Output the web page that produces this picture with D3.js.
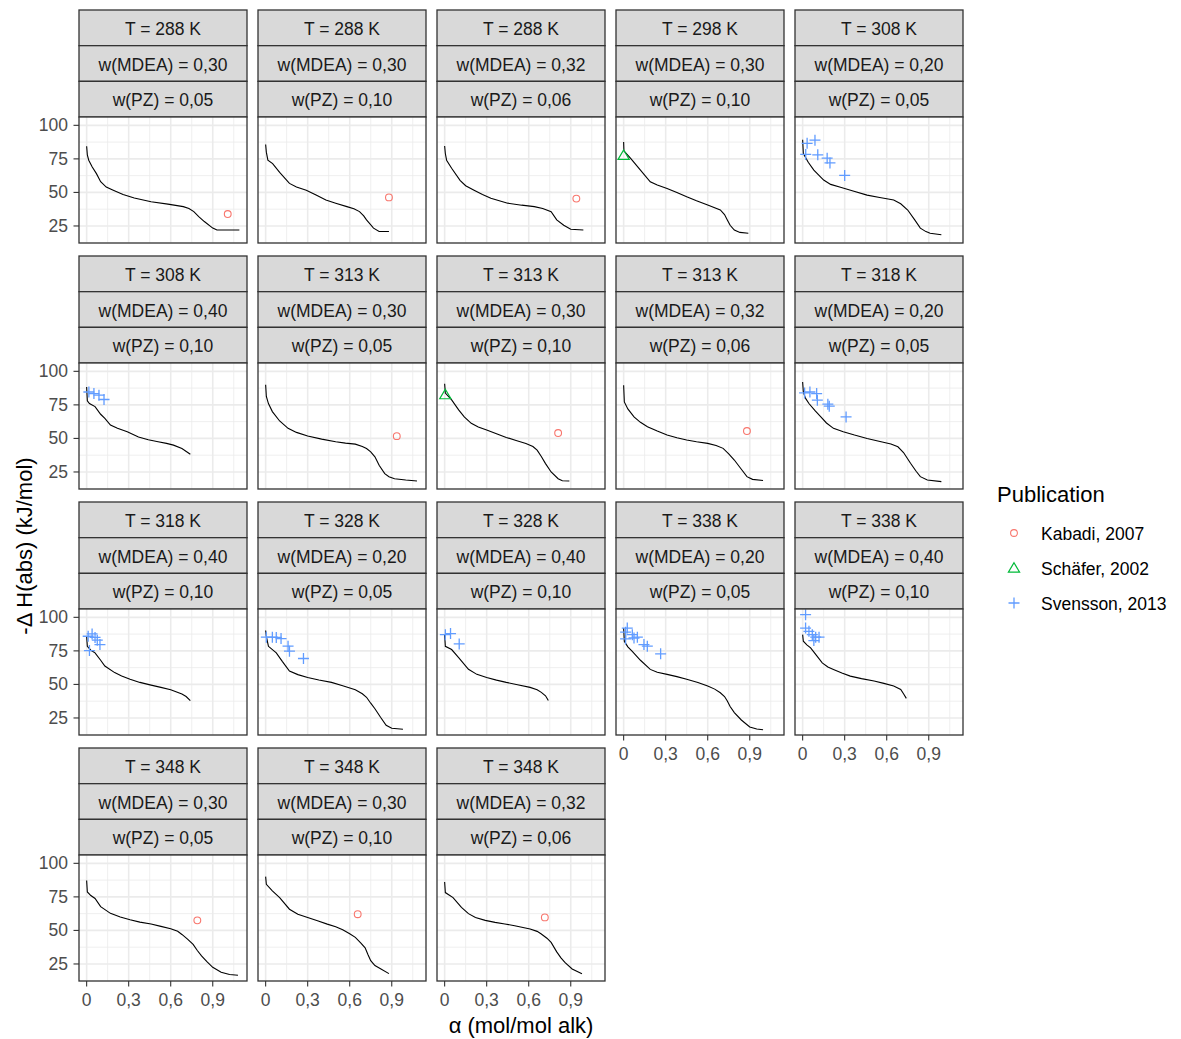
<!DOCTYPE html>
<html><head><meta charset="utf-8">
<script src="https://cdn.jsdelivr.net/npm/d3@7"></script>
<style>body{margin:0;background:#fff;} text{font-family:"Liberation Sans",Arial,sans-serif;}</style>
</head><body>
<svg id="chart" width="1181" height="1039"></svg>
<script>
// ---- facet labels ----
const temps = [288,288,288,298,308,308,313,313,313,318,318,328,328,338,338,348,348,348];
const wMDEA = ["0,30","0,30","0,32","0,30","0,20","0,40","0,30","0,30","0,32","0,20","0,40","0,20","0,40","0,20","0,40","0,30","0,30","0,32"];
const wPZ   = ["0,05","0,10","0,06","0,10","0,05","0,10","0,05","0,10","0,06","0,05","0,10","0,05","0,10","0,05","0,10","0,05","0,10","0,06"];

// ---- model curves (alpha, -dH) ----
const curve01 = [[0,84.4],[0.005,78],[0.015,74],[0.04,69],[0.07,64],[0.1,58],[0.14,54],[0.19,51.7],[0.26,48.5],[0.34,45.8],[0.46,43],[0.58,41.3],[0.69,39.4],[0.73,38],[0.765,35.7],[0.8,32],[0.84,28.3],[0.9,23.4],[0.93,22],[1.09,22]];
const curve02 = [[0,85.7],[0.005,80],[0.016,74],[0.05,71.5],[0.1,65],[0.17,56.7],[0.22,54],[0.29,51.7],[0.36,48],[0.43,44.3],[0.5,42],[0.58,39.4],[0.63,37.8],[0.67,35.7],[0.7,32.5],[0.72,29.5],[0.77,23.4],[0.81,20.9],[0.88,20.9]];
const curve03 = [[0,84.6],[0.005,79],[0.014,74],[0.05,68],[0.11,59],[0.15,55],[0.21,51.7],[0.27,48.5],[0.33,45.6],[0.45,42],[0.55,40.5],[0.64,39.4],[0.7,38],[0.76,35.7],[0.8,29.5],[0.85,25.5],[0.9,22.6],[0.99,22]];
const curve04 = [[0,87.6],[0.002,81],[0.05,75.3],[0.12,66.6],[0.19,57.9],[0.24,55.5],[0.31,53],[0.38,50],[0.45,46.8],[0.52,43.8],[0.6,40.6],[0.69,36.9],[0.72,33.5],[0.74,29.5],[0.76,25.5],[0.79,22],[0.83,20.2],[0.89,19.6]];
const curve05 = [[0,89.3],[0.005,79],[0.04,72.5],[0.08,66.6],[0.15,59.2],[0.2,56],[0.27,53.8],[0.36,51],[0.46,48],[0.55,46.2],[0.65,44.3],[0.7,41.5],[0.75,36.9],[0.8,29.5],[0.84,23.4],[0.88,20.8],[0.91,19.6],[0.99,18.4]];
const curve06 = [[0,88.3],[0.005,78],[0.02,76],[0.06,73.75],[0.1,68],[0.13,65],[0.17,60],[0.22,57.5],[0.29,55],[0.37,51],[0.44,49],[0.51,47.5],[0.57,46.3],[0.62,45],[0.68,42.5],[0.74,38.25]];
const curve07 = [[0,90],[0.005,81.25],[0.02,76],[0.048,70],[0.1,63],[0.16,57.5],[0.22,54.5],[0.3,51.75],[0.4,49.5],[0.5,47.5],[0.57,46.5],[0.64,45.75],[0.69,44],[0.72,42.5],[0.75,40],[0.78,36.25],[0.81,30],[0.85,23.75],[0.88,21.5],[0.92,20],[1.0,19],[1.08,18.25]];
const curve08 = [[0,90.75],[0.005,83.75],[0.05,78.75],[0.1,71.25],[0.14,66],[0.19,61.25],[0.24,58.5],[0.3,56.25],[0.37,53.5],[0.44,50.75],[0.51,48.5],[0.58,46.25],[0.63,44],[0.66,41.25],[0.69,36.5],[0.72,31.25],[0.76,25],[0.81,20],[0.84,18.5],[0.89,18.25]];
const curve09 = [[0,89.6],[0.005,77.2],[0.03,72],[0.074,66],[0.12,62],[0.17,58.7],[0.24,55.5],[0.31,52.5],[0.38,50.5],[0.45,48.8],[0.52,47.5],[0.6,46.3],[0.66,44.8],[0.71,42.6],[0.75,38.5],[0.79,33.9],[0.84,27],[0.88,21.5],[0.92,19.5],[0.995,18.6]];
const curve10 = [[0,92],[0.005,84.6],[0.02,80],[0.045,76],[0.09,70.5],[0.13,66],[0.17,61.5],[0.22,57.5],[0.29,55],[0.37,52.5],[0.46,50],[0.56,47.5],[0.63,45.8],[0.68,43.8],[0.72,39.5],[0.77,31.5],[0.81,25.5],[0.84,21.5],[0.89,19],[0.99,17.8]];
const curve11 = [[0,85.8],[0.005,78.4],[0.03,75.5],[0.06,73.5],[0.1,68],[0.13,63.7],[0.2,58.8],[0.25,56.3],[0.31,53.9],[0.38,51.5],[0.46,49.5],[0.53,47.8],[0.6,46],[0.68,42.9],[0.71,41],[0.74,38]];
const curve12 = [[0,90.2],[0.005,85.8],[0.02,78.4],[0.076,73.5],[0.12,67],[0.17,60],[0.23,57.3],[0.3,55.1],[0.38,53.3],[0.47,51.5],[0.55,49],[0.64,46],[0.69,43],[0.72,40.4],[0.75,36],[0.78,31.9],[0.82,25.5],[0.86,19.6],[0.9,17.3],[0.98,16.6]];
const curve13 = [[0,87],[0.005,78.4],[0.05,76],[0.1,69.9],[0.17,61.3],[0.23,57.5],[0.3,55.1],[0.37,53.2],[0.44,51.5],[0.52,49.8],[0.61,47.8],[0.66,46],[0.69,44.1],[0.72,41.5],[0.74,38]];
const curve14 = [[0,92],[0.005,82.2],[0.03,78],[0.06,74.8],[0.12,68],[0.19,61.2],[0.24,59],[0.31,57.5],[0.38,55.8],[0.45,53.8],[0.53,51.5],[0.6,48.8],[0.65,46.5],[0.69,43.8],[0.72,41],[0.74,37.6],[0.76,33.5],[0.79,29],[0.84,23.5],[0.9,18.3],[0.95,16.8],[0.995,16.2]];
const curve15 = [[0,87.1],[0.005,82.2],[0.03,79.5],[0.057,77.2],[0.1,71.5],[0.14,66.1],[0.18,63],[0.22,61.2],[0.28,58.5],[0.34,56.2],[0.42,54.3],[0.51,52.5],[0.58,50.8],[0.65,48.8],[0.7,46.3],[0.72,43],[0.74,39.6]];
const curve16 = [[0,87.2],[0.005,78.7],[0.03,76],[0.06,73.8],[0.1,67.7],[0.17,62.7],[0.24,60],[0.31,57.9],[0.38,56.2],[0.46,54.8],[0.53,53],[0.6,51.3],[0.65,49.3],[0.68,47],[0.72,43.5],[0.76,39.6],[0.79,35],[0.82,31],[0.86,26.5],[0.9,22.5],[0.96,18.8],[1.02,17.2],[1.08,16.6]];
const curve17 = [[0,90.1],[0.005,84.4],[0.048,79.5],[0.1,74.5],[0.17,65.8],[0.23,62],[0.3,59.7],[0.37,57.2],[0.44,54.7],[0.5,52.8],[0.55,50.5],[0.6,47.5],[0.64,44.8],[0.68,40.5],[0.71,37],[0.73,32],[0.75,27.5],[0.78,23.8],[0.82,21.5],[0.88,17.8]];
const curve18 = [[0,86.1],[0.005,78.2],[0.06,74.5],[0.12,67.1],[0.17,62.5],[0.22,59.7],[0.29,57.5],[0.36,56],[0.43,54.8],[0.5,53.5],[0.61,51],[0.66,49.3],[0.69,47.3],[0.73,44.2],[0.76,41.1],[0.8,34],[0.83,29.5],[0.86,26],[0.91,21.3],[0.98,17.8]];
const curves = [curve01,curve02,curve03,curve04,curve05,curve06,curve07,curve08,curve09,curve10,curve11,curve12,curve13,curve14,curve15,curve16,curve17,curve18];

// ---- experimental points: [panel (1-based), alpha, -dH] ----
const kabadi = [[1,1.007,33.9],[2,0.88,46.3],[3,0.94,45.4],[7,0.936,51.7],[8,0.81,54],[9,0.88,55.5],[16,0.79,57.5],[17,0.657,62.1],[18,0.715,59.7]];
const schafer = [[4,0,77.7],[8,0.005,82.7]];
const svensson = [
  [5,0.088,88.9],[5,0.032,86.6],[5,0.022,78.3],[5,0.108,78],[5,0.175,75.5],[5,0.195,72],[5,0.3,62.7],
  [6,0.016,84.6],[6,0.052,83.4],[6,0.088,82.2],[6,0.124,79],
  [10,0.014,83.9],[10,0.052,84.6],[10,0.1,83.4],[10,0.105,78.5],[10,0.18,75.5],[10,0.19,74],[10,0.31,66],
  [11,0.011,85.9],[11,0.039,87.6],[11,0.06,85],[11,0.076,83],[11,0.095,79.7],[11,0.02,75.2],
  [12,0.005,85.2],[12,0.048,85.2],[12,0.076,85],[12,0.11,84.2],[12,0.16,78.5],[12,0.17,74.8],[12,0.27,69.3],
  [13,0.005,87.1],[13,0.042,87.9],[13,0.104,80.2],
  [14,0.014,88.9],[14,0.026,92],[14,0.014,83.9],[14,0.062,87.1],[14,0.074,84.6],[14,0.098,85.2],[14,0.145,79.7],[14,0.169,78.5],[14,0.264,72.8],
  [15,0.021,102],[15,0.021,92],[15,0.045,89.6],[15,0.069,87.1],[15,0.093,85.2],[15,0.117,85.2],[15,0.08,82.7]
];

// ---- axes ----
const xLimits = [-0.0545, 1.1445];
const yLimits = [12.3, 106.2];
const xTicks = [0, 0.3, 0.6, 0.9];
const xTickLabels = ["0", "0,3", "0,6", "0,9"];
const xMinor = [0.15, 0.45, 0.75, 1.05];
const yTicks = [25, 50, 75, 100];
const yTickLabels = ["25", "50", "75", "100"];
const yMinor = [12.5, 37.5, 62.5, 87.5];
const pubNames = ["Kabadi, 2007", "Schäfer, 2002", "Svensson, 2013"];
const pubColors = ["#F8766D", "#00BA38", "#619CFF"];

// ---- layout ----
const svg = d3.select("#chart");
const nCol = 5, panelW = 168, colPitch = 179, left0 = 79;
const rowTop0 = 10, rowPitch = 246, stripH = 35.67, panelH = 126;
const x = d3.scaleLinear().domain(xLimits).range([0, panelW]);
const y = d3.scaleLinear().domain(yLimits).range([panelH, 0]);
const line = d3.line().x(d => x(d[0])).y(d => y(d[1]));

function drawSymbol(g, type, cx, cy, color) {
  if (type === 0) {
    g.append("circle").attr("cx", cx).attr("cy", cy).attr("r", 3.4)
      .attr("fill", "none").attr("stroke", color).attr("stroke-width", 1.1);
  } else if (type === 1) {
    g.append("path").attr("d", `M${cx},${cy-5.3}L${cx+5.6},${cy+4.2}L${cx-5.6},${cy+4.2}Z`)
      .attr("fill", "none").attr("stroke", color).attr("stroke-width", 1.2);
  } else {
    g.append("path").attr("d", `M${cx-5.5},${cy}H${cx+5.5}M${cx},${cy-5.5}V${cy+5.5}`)
      .attr("fill", "none").attr("stroke", color).attr("stroke-width", 1.3);
  }
}

const nPanels = temps.length;
const lastRowOfCol = d3.range(nCol).map(c => {
  let r = 0; for (let i = 0; i < nPanels; i++) if (i % nCol === c) r = Math.floor(i / nCol); return r;
});

for (let i = 0; i < nPanels; i++) {
  const c = i % nCol, r = Math.floor(i / nCol);
  const px = left0 + c * colPitch;
  const sTop = rowTop0 + r * rowPitch;
  const pTop = sTop + 3 * stripH;
  // strips
  const labels = [`T = ${temps[i]} K`, `w(MDEA) = ${wMDEA[i]}`, `w(PZ) = ${wPZ[i]}`];
  labels.forEach((lab, k) => {
    svg.append("rect").attr("x", px).attr("y", sTop + k * stripH).attr("width", panelW).attr("height", stripH)
      .attr("fill", "#D9D9D9").attr("stroke", "#333333").attr("stroke-width", 1.3);
    svg.append("text").attr("x", px + panelW / 2).attr("y", sTop + k * stripH + stripH / 2 + 1)
      .attr("text-anchor", "middle").attr("dominant-baseline", "central")
      .attr("font-size", "17.5px").attr("fill", "#1A1A1A").text(lab);
  });
  const g = svg.append("g").attr("transform", `translate(${px},${pTop})`);
  g.append("rect").attr("width", panelW).attr("height", panelH).attr("fill", "#fff");
  const clipId = "clip" + i;
  g.append("clipPath").attr("id", clipId).append("rect").attr("width", panelW).attr("height", panelH);
  const gi = g.append("g").attr("clip-path", `url(#${clipId})`);
  xMinor.forEach(v => gi.append("line").attr("x1", x(v)).attr("x2", x(v)).attr("y1", 0).attr("y2", panelH).attr("stroke", "#EBEBEB").attr("stroke-width", 0.8));
  yMinor.forEach(v => gi.append("line").attr("y1", y(v)).attr("y2", y(v)).attr("x1", 0).attr("x2", panelW).attr("stroke", "#EBEBEB").attr("stroke-width", 0.8));
  xTicks.forEach(v => gi.append("line").attr("x1", x(v)).attr("x2", x(v)).attr("y1", 0).attr("y2", panelH).attr("stroke", "#EBEBEB").attr("stroke-width", 1.6));
  yTicks.forEach(v => gi.append("line").attr("y1", y(v)).attr("y2", y(v)).attr("x1", 0).attr("x2", panelW).attr("stroke", "#EBEBEB").attr("stroke-width", 1.6));
  gi.append("path").datum(curves[i]).attr("d", line).attr("fill", "none").attr("stroke", "#000").attr("stroke-width", 1.1);
  [kabadi, schafer, svensson].forEach((set, t) => {
    set.filter(d => d[0] === i + 1).forEach(d => drawSymbol(gi, t, x(d[1]), y(d[2]), pubColors[t]));
  });
  g.append("rect").attr("width", panelW).attr("height", panelH).attr("fill", "none").attr("stroke", "#333333").attr("stroke-width", 1.3);
  // y axis
  if (c === 0) {
    yTicks.forEach((v, k) => {
      g.append("line").attr("x1", -5.5).attr("x2", 0).attr("y1", y(v)).attr("y2", y(v)).attr("stroke", "#333333").attr("stroke-width", 1.1);
      g.append("text").attr("x", -11).attr("y", y(v)).attr("text-anchor", "end").attr("dominant-baseline", "central")
        .attr("font-size", "17.5px").attr("fill", "#4D4D4D").text(yTickLabels[k]);
    });
  }
  // x axis
  if (r === lastRowOfCol[c]) {
    xTicks.forEach((v, k) => {
      g.append("line").attr("y1", panelH).attr("y2", panelH + 5.5).attr("x1", x(v)).attr("x2", x(v)).attr("stroke", "#333333").attr("stroke-width", 1.1);
      g.append("text").attr("x", x(v)).attr("y", panelH + 19).attr("text-anchor", "middle").attr("dominant-baseline", "central")
        .attr("font-size", "17.5px").attr("fill", "#4D4D4D").text(xTickLabels[k]);
    });
  }
}

// axis titles
svg.append("text").attr("x", left0 + (4 * colPitch + panelW) / 2).attr("y", 1025)
  .attr("text-anchor", "middle").attr("dominant-baseline", "central").attr("font-size", "22px").attr("fill", "#000")
  .text("α (mol/mol alk)");
svg.append("text").attr("transform", "translate(24,546) rotate(-90)")
  .attr("text-anchor", "middle").attr("dominant-baseline", "central").attr("font-size", "22px").attr("fill", "#000")
  .text("-Δ H(abs) (kJ/mol)");

// legend
svg.append("text").attr("x", 997).attr("y", 494).attr("dominant-baseline", "central")
  .attr("font-size", "22px").attr("fill", "#000").text("Publication");
pubNames.forEach((name, k) => {
  const cy = 533 + k * 35;
  drawSymbol(svg, k, 1014, cy, pubColors[k]);
  svg.append("text").attr("x", 1041).attr("y", cy + 1).attr("dominant-baseline", "central")
    .attr("font-size", "17.5px").attr("fill", "#000").text(name);
});
</script>
</body></html>
